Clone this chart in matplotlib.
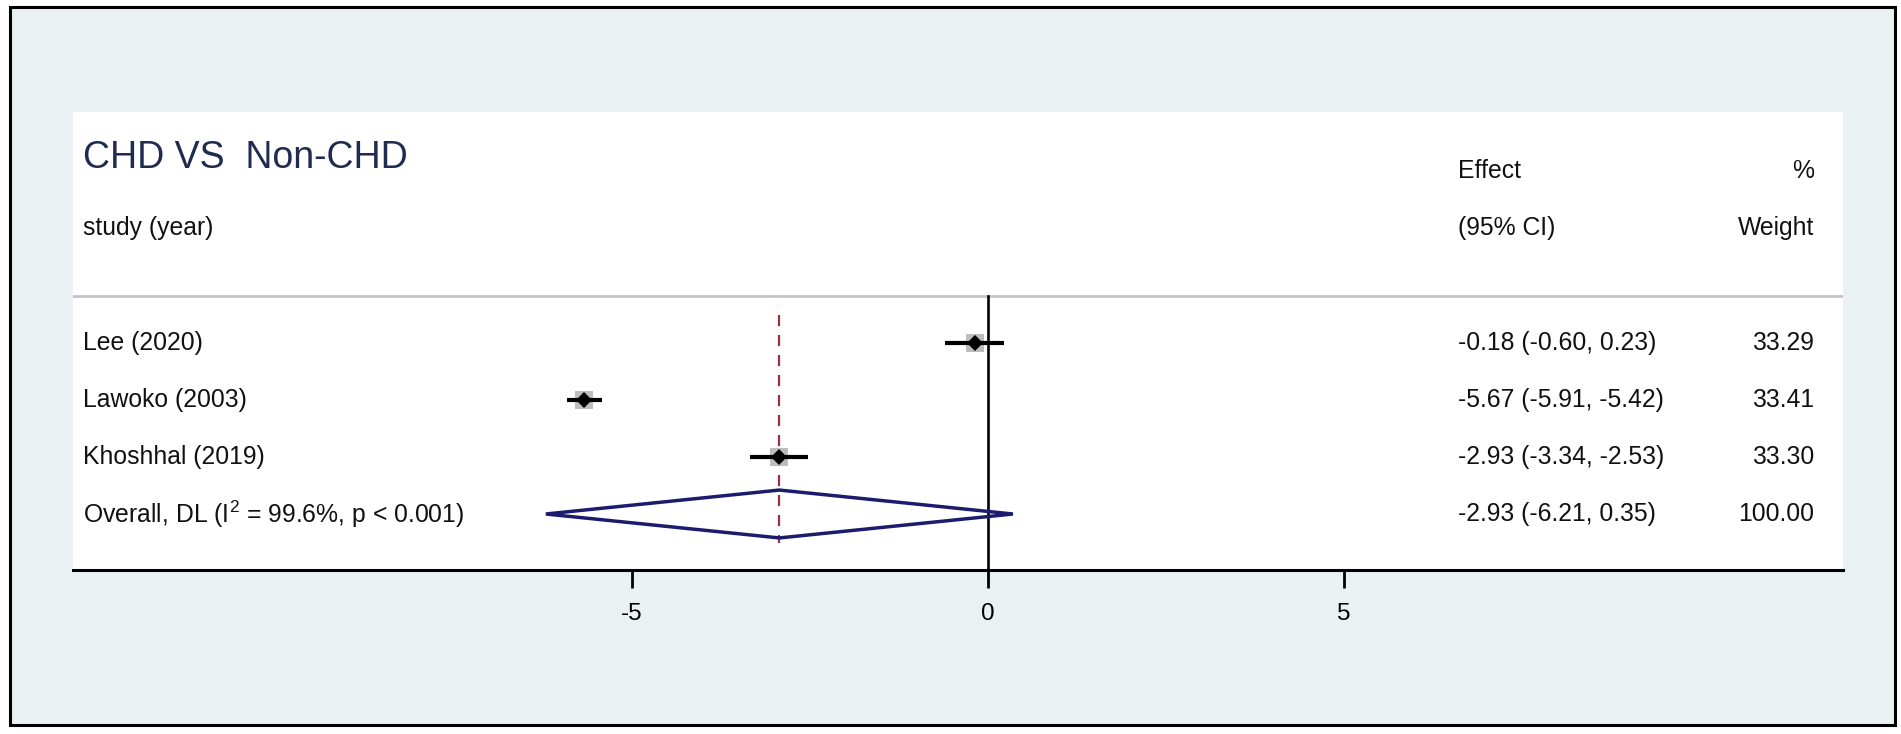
import matplotlib
matplotlib.use("Agg")
import matplotlib.pyplot as plt
from matplotlib.patches import Rectangle, Polygon
import numpy as np

plt.rcParams['font.family'] = ['Liberation Sans', 'DejaVu Sans']
plt.rcParams['mathtext.fontset'] = 'custom'
plt.rcParams['mathtext.rm'] = 'Liberation Sans'
plt.rcParams['mathtext.it'] = 'Liberation Sans:italic'

# ---------------- data ----------------
title = "CHD VS  Non-CHD"
studies = ["Lee (2020)", "Lawoko (2003)", "Khoshhal (2019)"]
effects = [-0.18, -5.67, -2.93]
ci_low = [-0.60, -5.91, -3.34]
ci_high = [0.23, -5.42, -2.53]
weights = [33.29, 33.41, 33.30]
overall_label = r"Overall, DL (I$^{2}$ = 99.6%, p < 0.001)"
overall_effect = -2.93
overall_low = -6.21
overall_high = 0.35
overall_weight = 100.00
xticks = [-5, 0, 5]
xtick_labels = ["-5", "0", "5"]

# ---------------- figure ----------------
W, H = 1901, 734
fig = plt.figure(figsize=(W / 100, H / 100), dpi=100)
fig.patch.set_facecolor("white")

bg = "#E9F1F3"
fig.patches.append(Rectangle((10 / W, 1 - 725 / H), (1895 - 10) / W, (725 - 7) / H,
                             transform=fig.transFigure, facecolor=bg,
                             edgecolor="black", linewidth=2.2, zorder=-10))

px_left, px_right, px_top, px_bottom = 73, 1843, 112, 570
ax = fig.add_axes([px_left / W, 1 - px_bottom / H,
                   (px_right - px_left) / W, (px_bottom - px_top) / H])
ax.set_zorder(1)
ax.set_facecolor("white")

# x scale: 0 at pixel 988, 71.2 px per unit
ppu = 71.2
ax.set_xlim((px_left - 988) / ppu, (px_right - 988) / ppu)
row_px = 57.0
row0 = 343.0
ax.set_ylim((px_bottom - row0) / row_px, (px_top - row0) / row_px)

for s in ["top", "right", "left"]:
    ax.spines[s].set_visible(False)
ax.spines["bottom"].set_linewidth(2.2)
ax.set_yticks([])
ax.set_xticks(xticks)
ax.set_xticklabels(xtick_labels, fontsize=17.5, color="#111111")
ax.tick_params(axis="x", length=13, width=2.0, pad=11, colors="black")

n = len(studies)
rows = np.arange(n)
overall_row = n

# header line
header_y = (296 - row0) / row_px
ax.axhline(header_y, color="#C4C4C4", linewidth=2.0, zorder=1)

# null line
ax.plot([0, 0], [header_y, ax.get_ylim()[0]], color="black", linewidth=1.9, zorder=2,
        clip_on=False)

# overall dashed line
ax.plot([overall_effect, overall_effect], [-0.5, overall_row + 0.5],
        color="#9E2F3E", linewidth=1.6, linestyle=(0, (5, 4)), zorder=2)

# study markers
for i in rows:
    ax.plot([ci_low[i], ci_high[i]], [i, i], color="black", linewidth=3.0,
            solid_capstyle="butt", zorder=4)
    ax.plot(effects[i], i, marker="s", markersize=13.5 * np.sqrt(weights[i] / 33.3),
            color="#BDBDBD", markeredgewidth=0, zorder=3)
    ax.plot(effects[i], i, marker="D", markersize=8, color="black",
            markeredgewidth=0, zorder=5)

# overall diamond
hh = 0.42
diamond = Polygon([[overall_low, overall_row], [overall_effect, overall_row - hh],
                   [overall_high, overall_row], [overall_effect, overall_row + hh]],
                  closed=True, fill=False, edgecolor="#1C1C6E", linewidth=2.5,
                  joinstyle="miter", zorder=4)
ax.add_patch(diamond)

# texts
tr = ax.get_yaxis_transform()  # x in axes fraction, y in data
x_left = (83 - px_left) / (px_right - px_left)
x_eff = (1458 - px_left) / (px_right - px_left)
x_wt = (1814 - px_left) / (px_right - px_left)
fs = 17.8
tc = "#111111"

ax.text(x_left, (158 - row0) / row_px, title, transform=tr, fontsize=27,
        color="#1F2B50", va="center", ha="left")
ax.text(x_left, (228 - row0) / row_px, "study (year)", transform=tr, fontsize=fs,
        va="center", ha="left", color=tc)
ax.text(x_eff, (171 - row0) / row_px, "Effect", transform=tr, fontsize=fs,
        va="center", ha="left", color=tc)
ax.text(x_eff, (228 - row0) / row_px, "(95% CI)", transform=tr, fontsize=fs,
        va="center", ha="left", color=tc)
ax.text(x_wt, (171 - row0) / row_px, "%", transform=tr, fontsize=fs,
        va="center", ha="right", color=tc)
ax.text(x_wt, (228 - row0) / row_px, "Weight", transform=tr, fontsize=fs,
        va="center", ha="right", color=tc)

for i in rows:
    ax.text(x_left, i, studies[i], transform=tr, fontsize=fs, va="center", ha="left",
            color=tc)
    ax.text(x_eff, i, f"{effects[i]:.2f} ({ci_low[i]:.2f}, {ci_high[i]:.2f})",
            transform=tr, fontsize=fs, va="center", ha="left", color=tc)
    ax.text(x_wt, i, f"{weights[i]:.2f}", transform=tr, fontsize=fs, va="center",
            ha="right", color=tc)

ax.text(x_left, overall_row, overall_label, transform=tr, fontsize=fs, va="center",
        ha="left", color=tc)
ax.text(x_eff, overall_row,
        f"{overall_effect:.2f} ({overall_low:.2f}, {overall_high:.2f})",
        transform=tr, fontsize=fs, va="center", ha="left", color=tc)
ax.text(x_wt, overall_row, f"{overall_weight:.2f}", transform=tr, fontsize=fs,
        va="center", ha="right", color=tc)

fig.savefig("out.png", dpi=100, facecolor=fig.get_facecolor())
